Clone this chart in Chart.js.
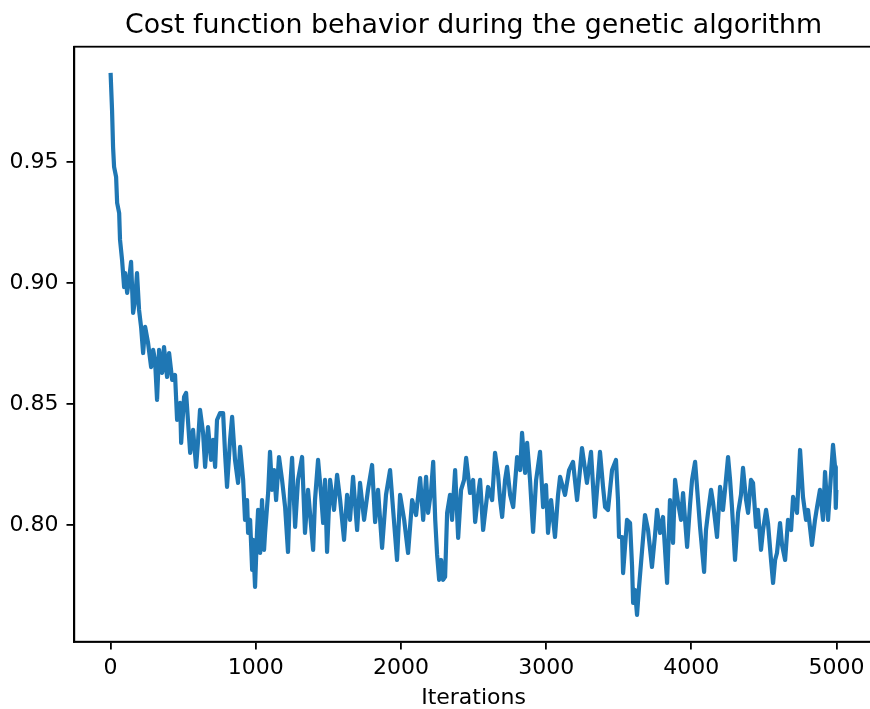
<!DOCTYPE html>
<html>
<head>
<meta charset="utf-8">
<script src="https://cdn.jsdelivr.net/npm/chart.js@4"></script>
<style>
  body { margin: 0; overflow: hidden; background: #fff; }
</style>
</head>
<body>
<canvas id="grafico" width="880" height="709"></canvas>
<script>
// iterações
const iterations = [
  0,10,17,24,38,45,59,65,79,93,
  100,114,127,141,155,169,182,196,210,224,
  238,258,279,293,306,320,334,355,368,389,
  403,424,444,458,479,486,506,520,534,548,
  568,589,603,616,637,651,671,692,706,720,
  733,754,775,789,802,823,837,857,878,892,
  913,926,940,947,961,975,981,995,1009,1016,
  1030,1043,1057,1064,1085,1098,1112,1126,1140,1160,
  1181,1202,1222,1236,1250,1271,1291,1319,1339,1360,
  1395,1408,1429,1450,1464,1477,1491,1512,1539,1560,
  1581,1608,1629,1649,1670,1698,1718,1746,1773,1801,
  1822,1842,1870,1897,1925,1946,1973,1994,2022,2049,
  2077,2104,2132,2153,2173,2187,2208,2222,2236,2249,
  2263,2277,2290,2304,2318,2338,2352,2373,2394,2414,
  2435,2449,2476,2497,2511,2531,2545,2566,2600,2628,
  2648,2669,2683,2697,2717,2731,2752,2773,2800,2821,
  2834,2855,2869,2889,2910,2931,2958,2979,2999,3013,
  3034,3061,3082,3096,3130,3158,3185,3213,3233,3247,
  3281,3309,3336,3371,3392,3406,3426,3454,3481,3495,
  3502,3523,3530,3557,3578,3592,3599,3612,3626,3640,
  3661,3681,3702,3729,3750,3764,3785,3805,3819,3833,
  3853,3874,3888,3909,3929,3943,3971,3991,4005,4026,
  4046,4060,4088,4101,4115,4136,4150,4177,4198,4218,
  4232,4253,4267,4280,4301,4322,4342,4356,4377,4391,
  4411,4425,4446,4459,4480,4494,4515,4528,4549,4563,
  4577,4590,4611,4625,4646,4666,4687,4701,4728,4749,
  4769,4790,4804,4831,4852,4866,4886,4907,4921,4942,
  4955,4976,4990,4995,4999
];

// valor da função custo em cada iteração
const cost = [
  0.9870,0.9716,0.9563,0.9481,0.9439,0.9332,0.9290,0.9179,0.9096,0.8984,
  0.9042,0.8960,0.9013,0.9088,0.8877,0.8931,0.9042,0.8889,0.8819,0.8711,
  0.8819,0.8753,0.8653,0.8724,0.8682,0.8517,0.8724,0.8629,0.8736,0.8612,
  0.8711,0.8600,0.8620,0.8434,0.8505,0.8339,0.8529,0.8546,0.8422,0.8298,
  0.8393,0.8240,0.8352,0.8476,0.8381,0.8240,0.8405,0.8269,0.8352,0.8240,
  0.8434,0.8463,0.8463,0.8290,0.8157,0.8352,0.8447,0.8269,0.8174,0.8323,
  0.8186,0.8021,0.8103,0.7967,0.8021,0.7814,0.7938,0.7744,0.7979,0.8062,
  0.7884,0.8103,0.7897,0.7967,0.8132,0.8302,0.8145,0.8227,0.8103,0.8281,
  0.8186,0.8074,0.7888,0.8145,0.8277,0.7992,0.8186,0.8281,0.7967,0.8145,
  0.7897,0.8103,0.8269,0.8124,0.8008,0.8186,0.7888,0.8186,0.8062,0.8207,
  0.8103,0.7938,0.8124,0.8021,0.8199,0.7979,0.8174,0.8021,0.8145,0.8248,
  0.8012,0.8145,0.7905,0.8124,0.8227,0.8062,0.7855,0.8124,0.8021,0.7884,
  0.8103,0.8041,0.8194,0.8021,0.8199,0.8050,0.8145,0.8261,0.8021,0.7876,
  0.7773,0.7855,0.7773,0.7785,0.8050,0.8124,0.8021,0.8227,0.7946,0.8145,
  0.8186,0.8277,0.8132,0.8186,0.8012,0.8124,0.8186,0.7979,0.8157,0.8103,
  0.8298,0.8207,0.8103,0.8033,0.8186,0.8240,0.8124,0.8074,0.8281,0.8227,
  0.8381,0.8215,0.8339,0.8186,0.7971,0.8186,0.8302,0.8074,0.8165,0.7967,
  0.8103,0.7950,0.8124,0.8199,0.8124,0.8227,0.8261,0.8103,0.8227,0.8318,
  0.8174,0.8302,0.8033,0.8302,0.8157,0.8074,0.8062,0.8227,0.8269,0.8103,
  0.7950,0.7950,0.7801,0.8021,0.8008,0.7826,0.7677,0.7731,0.7628,0.7744,
  0.7897,0.8041,0.7979,0.7826,0.7959,0.8062,0.7967,0.8033,0.7897,0.7760,
  0.8103,0.7926,0.8186,0.8091,0.8021,0.8132,0.7909,0.8083,0.8186,0.8261,
  0.8103,0.7992,0.7806,0.7979,0.8050,0.8145,0.8091,0.7950,0.8157,0.8062,
  0.8145,0.8281,0.8186,0.8074,0.7855,0.8050,0.8124,0.8236,0.8103,0.8050,
  0.8186,0.8174,0.7992,0.8062,0.7897,0.7979,0.8062,0.8008,0.7855,0.7760,
  0.7855,0.7884,0.8008,0.7917,0.7855,0.8021,0.7979,0.8116,0.8050,0.8310,
  0.8116,0.8021,0.8062,0.7917,0.8021,0.8074,0.8145,0.8021,0.8219,0.8021,
  0.8145,0.8331,0.8240,0.8070,0.8145
];

const xTicks = [0, 1000, 2000, 3000, 4000, 5000];
const yTicks = [0.80, 0.85, 0.90, 0.95];
const titulo = 'Cost function behavior during the genetic algorithm';

const FONT = "'DejaVu Sans', sans-serif";

// moldura completa e título centrado sobre a área do gráfico
const moldura = {
  id: 'moldura',
  afterDraw(chart) {
    const a = chart.chartArea;
    const ctx = chart.ctx;
    ctx.save();
    ctx.strokeStyle = '#000';
    ctx.lineWidth = 1.8;
    ctx.strokeRect(a.left, a.top, a.right - a.left, a.bottom - a.top);
    ctx.fillStyle = '#000';
    ctx.font = '26.8px ' + FONT;
    ctx.textAlign = 'center';
    ctx.textBaseline = 'middle';
    ctx.fillText(titulo, (a.left + a.right) / 2, 26);
    ctx.restore();
  }
};

const ctx = document.getElementById('grafico').getContext('2d');

new Chart(ctx, {
  type: 'line',
  data: {
    datasets: [{
      label: 'cost',
      data: iterations.map((it, i) => ({ x: it, y: cost[i] })),
      borderColor: '#1f77b4',
      borderWidth: 4.2,
      borderJoinStyle: 'round',
      pointRadius: 0,
      tension: 0,
      fill: false
    }]
  },
  options: {
    responsive: false,
    animation: false,
    layout: { padding: { left: 0, right: 7.2, top: 46.7, bottom: 0 } },
    plugins: {
      legend: { display: false },
      tooltip: { enabled: false },
      title: { display: false }
    },
    scales: {
      x: {
        type: 'linear',
        min: -250,
        max: 5250,
        afterBuildTicks: s => { s.ticks = xTicks.map(v => ({ value: v })); },
        afterFit: s => { s.height = 67.3; },
        grid: { display: true, drawOnChartArea: false, drawTicks: true, tickLength: 7.8, color: '#000', lineWidth: 1.8 },
        border: { display: true, color: '#000', width: 1.8 },
        ticks: {
          color: '#000',
          font: { family: FONT, size: 22 },
          padding: 6,
          maxRotation: 0,
          autoSkip: false,
          callback: v => String(v)
        },
        title: {
          display: true,
          text: 'Iterations',
          color: '#000',
          font: { family: FONT, size: 22, lineHeight: 1.0 },
          padding: { top: 0, bottom: 0 }
        }
      },
      y: {
        min: 0.7517,
        max: 0.9978,
        afterBuildTicks: s => { s.ticks = yTicks.map(v => ({ value: v })); },
        afterFit: s => { s.width = 74.3; },
        grid: { display: true, drawOnChartArea: false, drawTicks: true, tickLength: 7.8, color: '#000', lineWidth: 1.8 },
        border: { display: true, color: '#000', width: 1.8 },
        ticks: {
          color: '#000',
          font: { family: FONT, size: 22 },
          padding: 8,
          autoSkip: false,
          callback: v => v.toFixed(2)
        }
      }
    }
  },
  plugins: [moldura]
});
</script>
</body>
</html>
